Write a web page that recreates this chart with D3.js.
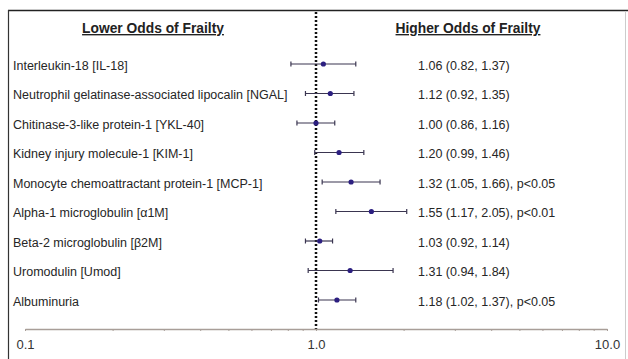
<!DOCTYPE html>
<html><head><meta charset="utf-8">
<script src="https://cdn.jsdelivr.net/npm/d3@7"></script>
<style>
html,body{margin:0;padding:0;background:#fff;}
svg{display:block;}
</style></head>
<body>
<svg id="c" width="628" height="359"></svg>
<script>
const labels = [
  "Interleukin-18 [IL-18]",
  "Neutrophil gelatinase-associated lipocalin [NGAL]",
  "Chitinase-3-like protein-1 [YKL-40]",
  "Kidney injury molecule-1 [KIM-1]",
  "Monocyte chemoattractant protein-1 [MCP-1]",
  "Alpha-1 microglobulin [\u03b11M]",
  "Beta-2 microglobulin [\u03b22M]",
  "Uromodulin [Umod]",
  "Albuminuria"
];
const oddsRatio = [1.06, 1.12, 1.00, 1.20, 1.32, 1.55, 1.03, 1.31, 1.18];
const ciLow     = [0.82, 0.92, 0.86, 0.99, 1.05, 1.17, 0.92, 0.94, 1.02];
const ciHigh    = [1.37, 1.35, 1.16, 1.46, 1.66, 2.05, 1.14, 1.84, 1.37];
const pNotes    = ["", "", "", "", ", p<0.05", ", p<0.01", "", "", ", p<0.05"];
const tickLabels = [0.1, 1, 10];
const tickText = ["0.1", "1.0", "10.0"];
const headers = ["Lower Odds of Frailty", "Higher Odds of Frailty"];

const svg = d3.select("#c");
const font = "'Liberation Sans', Arial, sans-serif";

// frame
svg.append("rect").attr("x",0).attr("y",0).attr("width",628).attr("height",359).attr("fill","#fff");
svg.append("line").attr("x1",8).attr("x2",628).attr("y1",10.5).attr("y2",10.5).attr("stroke","#222").attr("stroke-width",1.5);
svg.append("line").attr("x1",8.5).attr("x2",8.5).attr("y1",10).attr("y2",359).attr("stroke","#333").attr("stroke-width",1.2);
svg.append("line").attr("x1",625.5).attr("x2",625.5).attr("y1",11).attr("y2",359).attr("stroke","#ccc").attr("stroke-width",1);

const x = d3.scaleLog().domain([0.1, 10]).range([25, 607]);
const y = d3.scalePoint().domain(labels).range([64, 300]);
const axisY = 329;

// reference line at 1
svg.append("line")
  .attr("x1", x(1)).attr("x2", x(1))
  .attr("y1", 12).attr("y2", axisY)
  .attr("stroke","#111").attr("stroke-width",2.5)
  .attr("stroke-dasharray","2,2");

// headers
svg.selectAll("text.hdr").data(headers).join("text")
  .attr("class","hdr")
  .attr("x",(d,i)=> i===0 ? 153 : 468)
  .attr("y",33)
  .attr("text-anchor","middle")
  .attr("font-family",font).attr("font-size",13.8).attr("font-weight","bold")
  .attr("fill","#222")
  .style("text-decoration","underline")
  .text(d=>d);

// row labels
svg.selectAll("text.lab").data(labels).join("text")
  .attr("class","lab")
  .attr("x",13).attr("y",d=>y(d)+5.5)
  .attr("font-family",font).attr("font-size",12.5).attr("fill","#262626")
  .text(d=>d);

// CI lines
const g = svg.append("g");
labels.forEach((lab,i)=>{
  const yy = y(lab);
  g.append("line").attr("x1",x(ciLow[i])).attr("x2",x(ciHigh[i]))
    .attr("y1",yy).attr("y2",yy).attr("stroke","#3a3550").attr("stroke-width",1.2);
  [ciLow[i], ciHigh[i]].forEach(v=>{
    g.append("line").attr("x1",x(v)).attr("x2",x(v))
      .attr("y1",yy-2.5).attr("y2",yy+2.5).attr("stroke","#3a3550").attr("stroke-width",1.2);
  });
  g.append("circle").attr("cx",x(oddsRatio[i])).attr("cy",yy).attr("r",2.6).attr("fill","#2c1f80");
});

// estimate texts
svg.selectAll("text.est").data(labels).join("text")
  .attr("class","est")
  .attr("x",418).attr("y",d=>y(d)+5.5)
  .attr("font-family",font).attr("font-size",12.5).attr("fill","#262626")
  .text((d,i)=> oddsRatio[i].toFixed(2)+" ("+ciLow[i].toFixed(2)+", "+ciHigh[i].toFixed(2)+")"+pNotes[i]);

// axis
const allTicks = [];
[0.1, 1].forEach(b=>{ for(let k=1;k<10;k++) allTicks.push(+(b*k).toFixed(2)); });
allTicks.push(10);
const axis = d3.axisBottom(x).tickValues(allTicks).tickSizeInner(2).tickSizeOuter(0).tickPadding(9)
  .tickFormat(v=>{ const j = tickLabels.indexOf(v); return j>=0 ? tickText[j] : ""; });
const ag = svg.append("g").attr("transform",`translate(0,${axisY})`).call(axis);
ag.select(".domain").attr("stroke","#a89e98").attr("stroke-width",1.5);
ag.selectAll(".tick line").attr("stroke","#a89e98");
ag.selectAll(".tick text").attr("font-family",font).attr("font-size",13).attr("fill","#333");
</script>
</body></html>
